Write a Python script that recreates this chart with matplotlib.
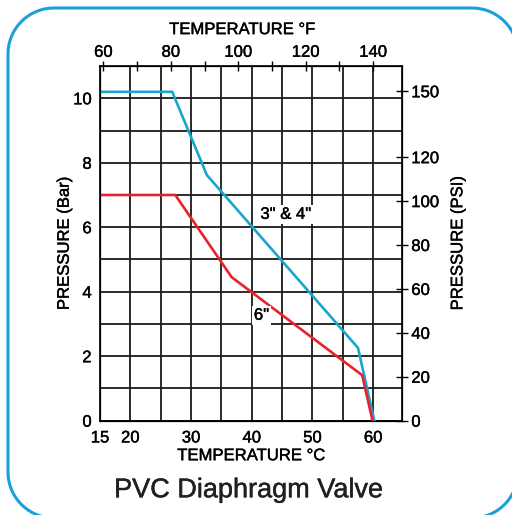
import matplotlib
matplotlib.use("Agg")
import numpy as np
import matplotlib.pyplot as plt
import matplotlib.patheffects as pe
from matplotlib.lines import Line2D
from matplotlib.text import Text

plt.rcParams['font.family'] = ['Liberation Sans', 'DejaVu Sans']

# data (temperature in C, pressure in bar)
temp_34 = [15, 26.9, 32.6, 57.5, 60.2]
bar_34 = [10.2, 10.2, 7.62, 2.26, 0]
temp_6 = [15, 27.4, 36.7, 58.2, 59.9]
bar_6 = [7.0, 7.0, 4.45, 1.41, 0]

c_ticks = [15, 20, 30, 40, 50, 60]
bar_ticks = [0, 2, 4, 6, 8, 10]
f_labels = [60, 80, 100, 120, 140]
f_minor = [70, 90, 110, 130]
psi_ticks = [0, 20, 40, 60, 80, 100, 120, 150]
psi_per_bar = 14.68

blue = "#18a7cc"
red = "#e8212b"

fig = plt.figure(figsize=(5.12, 5.15), dpi=100)
ax = fig.add_axes([0.1953, 0.1831, 0.5904, 0.6887])

ax.set_xlim(15, 64.8)
ax.set_ylim(0, 11)
ax.set_xticks(c_ticks)
ax.set_xticks([25, 35, 45, 55], minor=True)
ax.set_yticks(bar_ticks)
ax.set_yticks([1, 3, 5, 7, 9], minor=True)
ax.grid(True, which="both", color="#1a1a1a", linewidth=1.3)
ax.tick_params(which="both", length=0, labelsize=12, pad=6)
ax.tick_params(axis="x", pad=7)
for s in ax.spines.values():
    s.set_linewidth(1.2)

ax.plot(temp_34, bar_34, color=blue, linewidth=1.9, solid_joinstyle="miter", zorder=3)
ax.plot(temp_6, bar_6, color=red, linewidth=1.9, solid_joinstyle="miter", zorder=3)

box = dict(facecolor="white", edgecolor="none", pad=1.5)
ax.text(45.6, 6.4, '3" & 4"', fontsize=12, ha="center", va="center", bbox=box, zorder=4)
ax.text(41.6, 3.27, '6"', fontsize=12, ha="center", va="center", bbox=box, zorder=4)

ax.set_xlabel("TEMPERATURE °C", fontsize=12, labelpad=2)
ax.set_ylabel("PRESSURE (Bar)", fontsize=12, labelpad=1)

# right axis in PSI
ax2 = ax.twinx()
ax2.set_ylim(0, 11 * psi_per_bar)
ax2.set_yticks(psi_ticks)
ax2.tick_params(direction="inout", length=9, width=1, labelsize=12, pad=2)
ax2.set_ylabel("PRESSURE (PSI)", fontsize=12, labelpad=8)

# top axis in F
ax3 = ax.twiny()
ax3.set_xlim(15 * 9 / 5 + 32, 64.8 * 9 / 5 + 32)
ax3.set_xticks(f_labels)
ax3.set_xticks(f_minor, minor=True)
ax3.tick_params(which="both", direction="inout", length=7, width=1, labelsize=12, pad=1)
ax3.set_xlabel("TEMPERATURE °F", fontsize=12, labelpad=5)
ax3.xaxis.set_label_coords(0.47, 1.09)

fig.text(0.486, 0.048, "PVC Diaphragm Valve", fontsize=19.5, color="#231f20",
         ha="center", va="center")

# rounded frame outline in pixels (runs off the right and bottom edges)
x0, x1, y0, y1, r = 8, 518, -3, 507, 46
t = np.linspace(0, np.pi / 2, 30)
fx = np.concatenate([x1 - r + r * np.cos(t), x0 + r - r * np.sin(t),
                     x0 + r - r * np.cos(t), x1 - r + r * np.sin(t)])
fy = np.concatenate([y1 - r + r * np.sin(t), y1 - r + r * np.cos(t),
                     y0 + r - r * np.sin(t), y0 + r - r * np.cos(t)])
fx = np.append(fx, fx[0]) / 512
fy = np.append(fy, fy[0]) / 515
fig.add_artist(Line2D(fx, fy, transform=fig.transFigure, color="#1ba0da",
                      linewidth=2.2, solid_joinstyle="round"))

# slightly heavier text, like the original print
fig.canvas.draw()
for txt in fig.findobj(Text):
    txt.set_path_effects([pe.Stroke(linewidth=0.3), pe.Normal()])

fig.savefig("out.png", dpi=100)
